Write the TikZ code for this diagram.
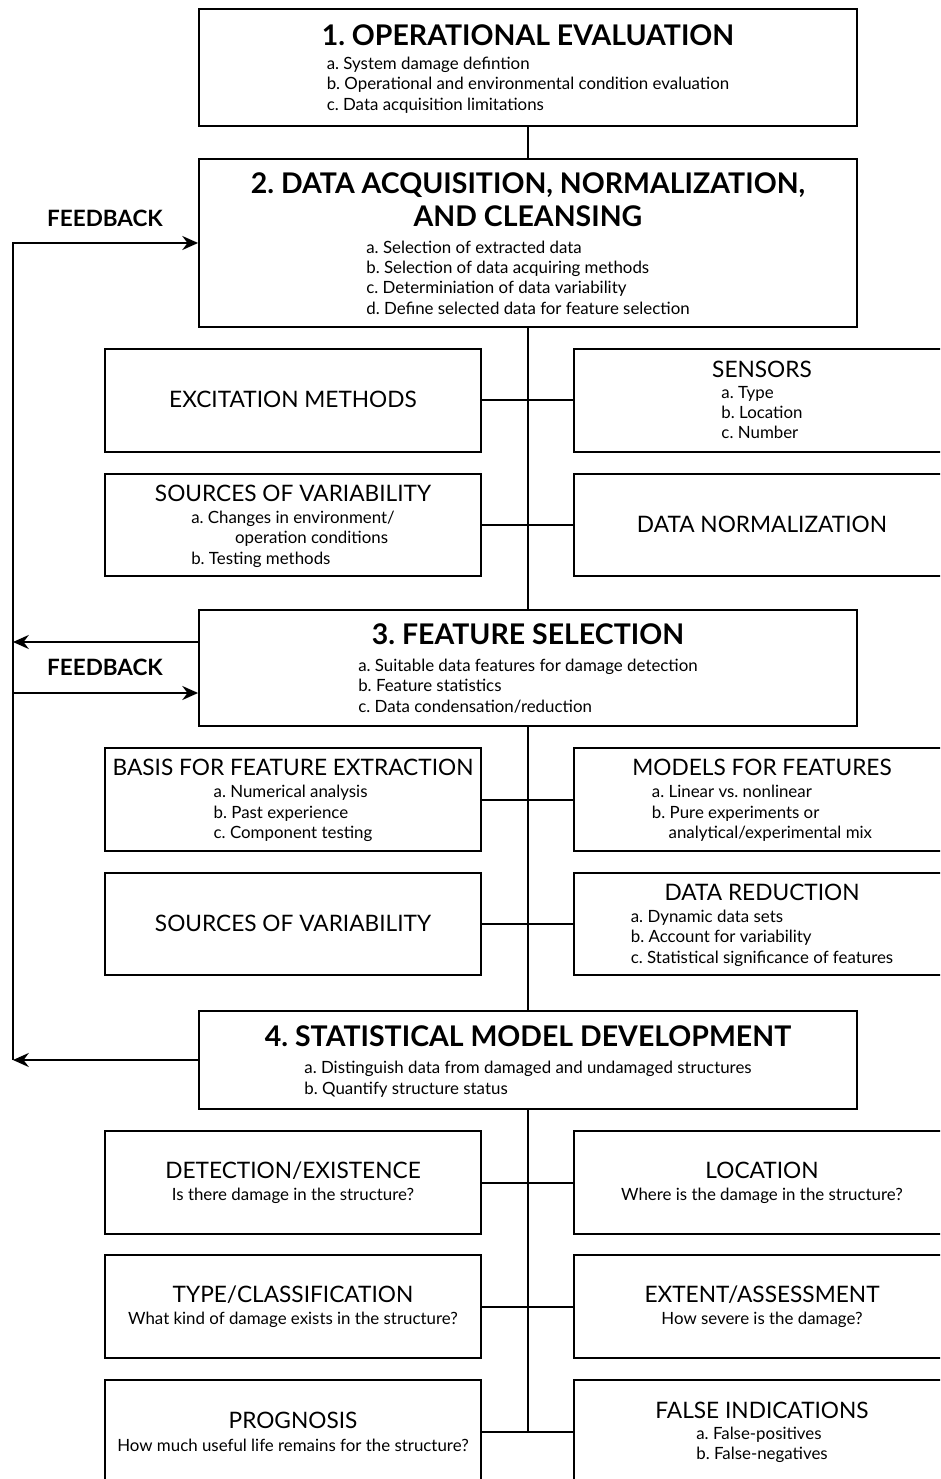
\documentclass[tikz,border=0pt]{standalone}
\usepackage{fontspec}
\setmainfont{Lato}
\usetikzlibrary{arrows.meta}
\frenchspacing
\newcommand{\bigtitle}[1]{{\fontsize{16.2}{18.5}\selectfont\bfseries\rule{0pt}{15.2pt}#1\strut}}
\newcommand{\subtitle}[1]{{\fontsize{12.9}{14}\selectfont\rule{0pt}{12.3pt}#1\strut}}
\newcommand{\casetitle}[1]{{\fontsize{12.9}{14}\selectfont #1\strut}}
\newcommand{\itemlist}[1]{\begin{tabular}{@{}l@{}}#1\end{tabular}}

\begin{document}
\begin{tikzpicture}
			[line cap=butt,line join=miter,>={Stealth[length=9pt,width=8pt,inset=3pt]},x=0.02cm,y=-0.02cm,
			stage/.style={draw,line width=0.04cm,minimum width=13.16cm,inner sep=0pt,align=center,font=\fontsize{9.6}{11.6}\selectfont},
			box/.style={draw,line width=0.04cm,minimum width=7.52cm,minimum height=2.06cm,inner sep=0pt,align=center,font=\fontsize{9.6}{11.6}\selectfont},
			link/.style={line width=0.04cm},
			fb/.style={font=\fontsize{12.8}{14}\selectfont\bfseries}]
			\clip (0,0) rectangle (940,1479);
			% main stages
			\node[stage,minimum height=2.34cm] (opeval) at (528,67.5) {\bigtitle{1. OPERATIONAL EVALUATION}\\[-0.8pt]
				\itemlist{a. System damage defintion\\ b. Operational and environmental condition evaluation\\ c. Data acquisition limitations}};
			\node[stage,minimum height=3.36cm] (dataacq) at (528,243) {\bigtitle{\begin{tabular}{@{}c@{}}\rule{0pt}{16pt}2. DATA ACQUISITION, NORMALIZATION,\\AND CLEANSING\end{tabular}}\\[0.6pt]
				\itemlist{a. Selection of extracted data\\ b. Selection of data acquiring methods\\ c. Determiniation of data variability\\ d. Define selected data for feature selection}};
			\node[stage,minimum height=2.32cm] (featsel) at (528,668) {\bigtitle{3. FEATURE SELECTION}\\[0.6pt]
				\itemlist{a. Suitable data features for damage detection\\ b. Feature statistics\\ c. Data condensation/reduction}};
			\node[stage,minimum height=1.96cm] (statmod) at (528,1060) {\bigtitle{4. STATISTICAL MODEL DEVELOPMENT}\\[1pt]
				\itemlist{a. Distinguish data from damaged and undamaged structures\\ b. Quantify structure status}};
			% side boxes
			\node[box] (excite) at (293,400.5) {\subtitle{EXCITATION METHODS}};
			\node[box] (sensors) at (762,400.5) {\subtitle{SENSORS}\\[-1.6pt]\itemlist{a. Type\\ b. Location\\ c. Number}};
			\node[box] (varone) at (293,525) {\subtitle{SOURCES OF VARIABILITY}\\[-0.9pt]
				\itemlist{a. Changes in environment/\\ \hspace*{25pt}operation conditions\\ b. Testing methods}};
			\node[box] (datanorm) at (762,525) {\subtitle{DATA NORMALIZATION}};
			\node[box] (basis) at (293,799.5) {\subtitle{BASIS FOR FEATURE EXTRACTION}\\[-0.9pt]
				\itemlist{a. Numerical analysis\\ b. Past experience\\ c. Component testing}};
			\node[box] (models) at (762,799.5) {\subtitle{MODELS FOR FEATURES}\\[-0.9pt]
				\itemlist{a. Linear vs. nonlinear\\ b. Pure experiments or\\ \hspace*{9.5pt}analytical/experimental mix}};
			\node[box] (vartwo) at (293,924) {\subtitle{SOURCES OF VARIABILITY}};
			\node[box] (datared) at (762,924) {\subtitle{DATA REDUCTION}\\[-0.9pt]
				\itemlist{a. Dynamic data sets\\ b. Account for variability\\ c. Statistical significance of features}};
			\node[box] (detect) at (293,1182.5) {\casetitle{DETECTION/EXISTENCE}\\[1.2pt]Is there damage in the structure?};
			\node[box] (locate) at (762,1182.5) {\casetitle{LOCATION}\\[1.2pt]Where is the damage in the structure?};
			\node[box] (classify) at (293,1306.5) {\casetitle{TYPE/CLASSIFICATION}\\[1.2pt]What kind of damage exists in the structure?};
			\node[box] (extent) at (762,1306.5) {\casetitle{EXTENT/ASSESSMENT}\\[1.2pt]How severe is the damage?};
			\node[box] (prognosis) at (293,1431.5) {\casetitle{PROGNOSIS}\\[1.2pt]How much useful life remains for the structure?};
			\node[box] (falseind) at (762,1431.5) {\subtitle{FALSE INDICATIONS}\\[-1.6pt]\itemlist{a. False-positives\\ b. False-negatives}};
			% feedback
			\node[fb] (fbone) at (105,218) {FEEDBACK};
			\node[fb] (fbtwo) at (105,667) {FEEDBACK};
			\coordinate (fbbot) at (13,1060);
			\coordinate (fbout) at (13,642);
			\coordinate (fbin) at (13,693);
			% links
			\draw[link] (opeval) -- (dataacq);
			\draw[link] (dataacq) -- (featsel);
			\draw[link] (featsel) -- (statmod);
			\draw[link] (statmod.south) -- (statmod.south |- prognosis.east);
			\foreach \l/\r in {excite/sensors,varone/datanorm,basis/models,vartwo/datared,detect/locate,classify/extent,prognosis/falseind}
				\draw[link] (\l.east) -- (\r.west);
			\draw[link,->] (statmod.west) -- (fbbot);
			\draw[link,->] (fbbot) |- (dataacq.west);
			\draw[link,->] (featsel.west |- fbout) -- (fbout);
			\draw[link,->] (fbin) -- (featsel.west |- fbin);
		\end{tikzpicture}
\end{document}
